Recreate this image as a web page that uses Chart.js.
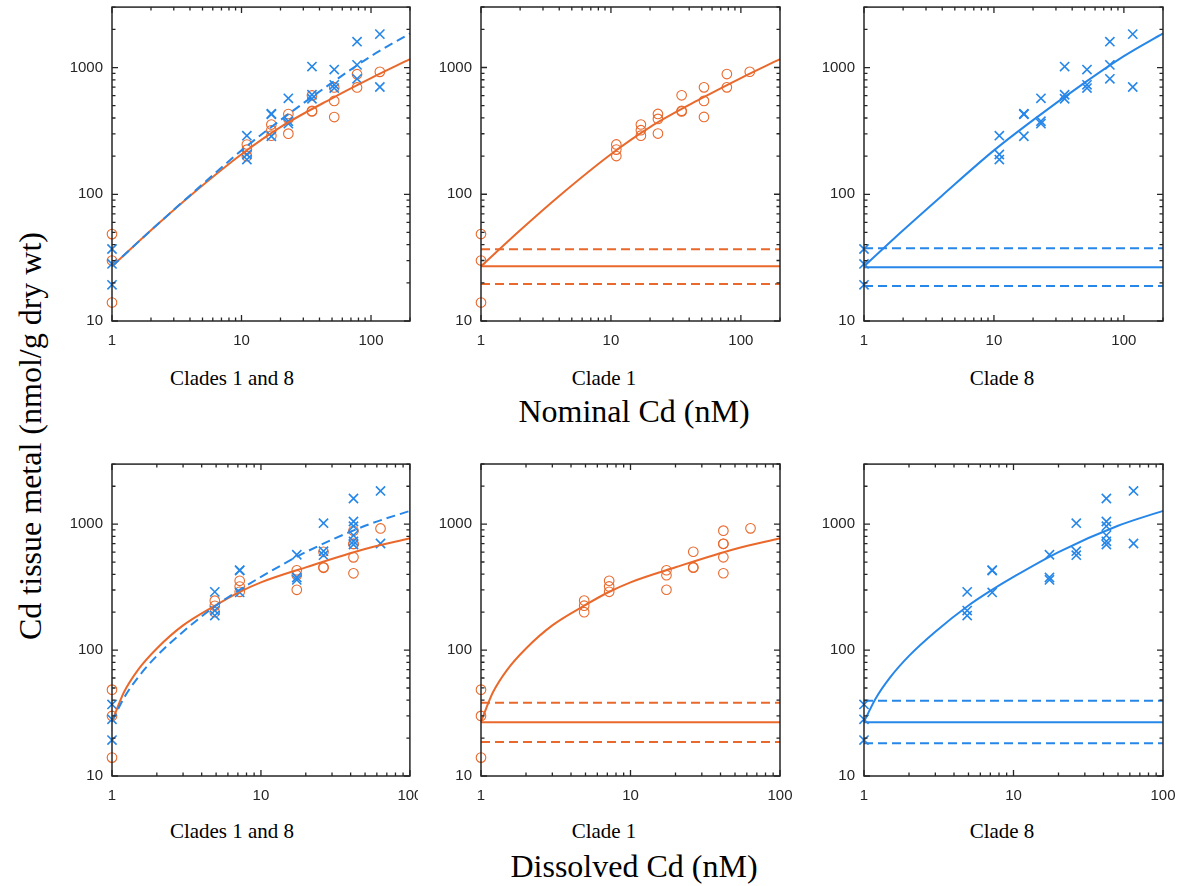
<!DOCTYPE html>
<html>
<head>
<meta charset="utf-8">
<script src="https://cdn.jsdelivr.net/npm/chart.js@4.4.1/dist/chart.umd.min.js"></script>
<style>
    body { margin: 0; background: #fff; width: 1180px; height: 886px; position: relative; overflow: hidden; }
    canvas { position: absolute; }
    .lbl { position: absolute; font-family: "Liberation Serif", "Times New Roman", serif; color: #000;
           white-space: nowrap; transform: translate(-50%, -50%); }
    .small { font-size: 21px; }
    .big { font-size: 32px; }
</style>
</head>
<body>
<canvas id="p1"></canvas>
<canvas id="p2"></canvas>
<canvas id="p3"></canvas>
<canvas id="p4"></canvas>
<canvas id="p5"></canvas>
<canvas id="p6"></canvas>

<div class="lbl small" style="left:232px; top:378px">Clades 1 and 8</div>
<div class="lbl small" style="left:604px; top:378px">Clade 1</div>
<div class="lbl small" style="left:1002px; top:378px">Clade 8</div>
<div class="lbl big" style="left:634px; top:411px">Nominal Cd (nM)</div>
<div class="lbl small" style="left:232px; top:831px">Clades 1 and 8</div>
<div class="lbl small" style="left:604px; top:831px">Clade 1</div>
<div class="lbl small" style="left:1002px; top:831px">Clade 8</div>
<div class="lbl big" style="left:634px; top:866px">Dissolved Cd (nM)</div>
<div class="lbl big" style="left:30px; top:436px; transform: translate(-50%, -50%) rotate(-90deg)">Cd tissue metal (nmol/g dry wt)</div>

<script>
// exposure concentrations (nM)
const nominalConc = [1, 11, 17, 23, 35, 52, 78, 117];
const dissolvedConc = [1, 4.9, 7.2, 17.4, 26.3, 41.8, 41.8, 63.5];

// tissue Cd (nmol/g dry wt), one group per concentration
const clade1Tissue = [[48.5, 30, 14], [247, 225, 200], [355, 320, 290], [430, 393, 301],
                      [603, 455, 450], [697, 545, 407], [887, 697], [925]];
const clade8Tissue = [[37, 28.2, 19.3], [290, 206, 188], [432, 428, 287], [572, 377, 361],
                      [1018, 610, 567], [964, 731, 689], [1600, 1050, 815], [1836, 702]];

// fitted curves
const fitNominalX = [1, 2, 4, 10, 20, 50, 100, 200];
const fitNominalClade1 = [27, 52, 97, 207, 339, 572, 825, 1164];
const fitNominalClade8 = [27, 52, 98, 222, 385, 760, 1230, 1860];
const fitDissolvedX = [1, 1.2, 1.5, 2, 3, 5, 7, 10, 20, 50, 100];
const fitDissolvedClade1 = [27, 46, 70, 103, 157, 228, 285, 345, 454, 635, 772];
const fitDissolvedClade8 = [27, 41.5, 61, 90, 140, 226, 295, 381, 600, 971, 1276];

// control level: mean, upper, lower
const ctrlNominalClade1 = [27, 36.8, 19.6];
const ctrlNominalClade8 = [26.5, 37.5, 18.9];
const ctrlDissolvedClade1 = [26.7, 38.2, 18.6];
const ctrlDissolvedClade8 = [26.7, 39.6, 18.2];

const yTicks = [10, 100, 1000];
const xTicks = [1, 10, 100];

const ORANGE = '#E9692C';
const BLUE = '#2787E8';
const AXIS = '#262626';

function points(conc, groups) {
    var out = [];
    groups.forEach(function(g, i) {
        g.forEach(function(v) { out.push({x: conc[i], y: v}); });
    });
    return out;
}

function curve(xs, ys) {
    return xs.map(function(x, i) { return {x: x, y: ys[i]}; });
}

function circles(conc, groups) {
    return { data: points(conc, groups), pointStyle: 'circle', pointRadius: 4.8, borderWidth: 1.1,
             borderColor: ORANGE, backgroundColor: 'rgba(0,0,0,0)', showLine: false, clip: false };
}

function crosses(conc, groups) {
    return { data: points(conc, groups), pointStyle: 'crossRot', pointRadius: 6.5, borderWidth: 1.6,
             borderColor: BLUE, backgroundColor: BLUE, showLine: false, clip: false };
}

function fitLine(xs, ys, color, dashed) {
    return { data: curve(xs, ys), showLine: true, pointRadius: 0, borderColor: color, borderWidth: 2,
             borderDash: dashed ? [9, 5] : [], cubicInterpolationMode: 'monotone', clip: false };
}

function ctrlLines(ctrl, xMax, color) {
    return [
        { data: [{x: 1, y: ctrl[0]}, {x: xMax, y: ctrl[0]}], showLine: true, pointRadius: 0, borderColor: color, borderWidth: 2, clip: false },
        { data: [{x: 1, y: ctrl[1]}, {x: xMax, y: ctrl[1]}], showLine: true, pointRadius: 0, borderColor: color, borderWidth: 2, borderDash: [9, 5], clip: false },
        { data: [{x: 1, y: ctrl[2]}, {x: xMax, y: ctrl[2]}], showLine: true, pointRadius: 0, borderColor: color, borderWidth: 2, borderDash: [9, 5], clip: false }
    ];
}

// box with inward ticks, drawn from the chart scales
const boxPlugin = {
    id: 'box',
    afterDatasetsDraw: function(chart) {
        var ctx = chart.ctx, a = chart.chartArea;
        var xs = chart.scales.x, ys = chart.scales.y;
        ctx.save();
        ctx.strokeStyle = AXIS;
        ctx.lineWidth = 1.3;
        for (var d = 1; d <= 1000; d *= 10) {
            for (var m = 1; m <= 9; m++) {
                var v = d * m;
                var len = m === 1 ? 6 : 3.5;
                if (v >= xs.min && v <= xs.max) {
                    var px = xs.getPixelForValue(v);
                    ctx.beginPath();
                    ctx.moveTo(px, a.bottom); ctx.lineTo(px, a.bottom - len);
                    ctx.moveTo(px, a.top); ctx.lineTo(px, a.top + len);
                    ctx.stroke();
                }
                if (v >= ys.min && v <= ys.max) {
                    var py = ys.getPixelForValue(v);
                    ctx.beginPath();
                    ctx.moveTo(a.left, py); ctx.lineTo(a.left + len, py);
                    ctx.moveTo(a.right, py); ctx.lineTo(a.right - len, py);
                    ctx.stroke();
                }
            }
        }
        ctx.lineWidth = 1.5;
        ctx.strokeRect(a.left, a.top, a.right - a.left, a.bottom - a.top);
        ctx.restore();
    }
};

function makePanel(id, box, xMax, rightPad, datasets) {
    var canvas = document.getElementById(id);
    var w = box.right - box.left, h = box.bottom - box.top;
    canvas.width = w + 62 + rightPad;
    canvas.height = h + 8 + 34;
    canvas.style.left = (box.left - 62) + 'px';
    canvas.style.top = (box.top - 8) + 'px';
    var tickFont = { family: '"Liberation Sans", Arial, sans-serif', size: 15 };
    new Chart(canvas.getContext('2d'), {
        type: 'scatter',
        data: { datasets: datasets },
        options: {
            responsive: false,
            animation: false,
            events: [],
            layout: { padding: { left: 0, top: 8, right: rightPad, bottom: 0 } },
            plugins: { legend: { display: false }, tooltip: { enabled: false } },
            scales: {
                x: {
                    type: 'logarithmic', min: 1, max: xMax,
                    afterBuildTicks: function(s) { s.ticks = xTicks.map(function(v) { return {value: v}; }); },
                    afterFit: function(s) { s.height = 34; s.paddingLeft = 0; s.paddingRight = 0; },
                    ticks: { callback: function(v) { return String(v); }, font: tickFont, color: AXIS,
                             padding: 11, maxRotation: 0, autoSkip: false },
                    grid: { display: false, drawTicks: false },
                    border: { display: false }
                },
                y: {
                    type: 'logarithmic', min: 10, max: 3000,
                    afterBuildTicks: function(s) { s.ticks = yTicks.map(function(v) { return {value: v}; }); },
                    afterFit: function(s) { s.width = 62; s.paddingTop = 0; s.paddingBottom = 0; },
                    ticks: { callback: function(v) { return String(v); }, font: tickFont, color: AXIS,
                             padding: 9, autoSkip: false },
                    grid: { display: false, drawTicks: false },
                    border: { display: false }
                }
            }
        },
        plugins: [boxPlugin]
    });
}

// Nominal Cd
makePanel('p1', {left: 112, top: 7, right: 410, bottom: 321}, 200, 22, [
    fitLine(fitNominalX, fitNominalClade8, BLUE, true),
    fitLine(fitNominalX, fitNominalClade1, ORANGE, false),
    crosses(nominalConc, clade8Tissue),
    circles(nominalConc, clade1Tissue)
]);
makePanel('p2', {left: 481, top: 7, right: 780, bottom: 321}, 200, 22,
    ctrlLines(ctrlNominalClade1, 200, ORANGE).concat([
        fitLine(fitNominalX, fitNominalClade1, ORANGE, false),
        circles(nominalConc, clade1Tissue)
    ]));
makePanel('p3', {left: 864, top: 7, right: 1163, bottom: 321}, 200, 17,
    ctrlLines(ctrlNominalClade8, 200, BLUE).concat([
        fitLine(fitNominalX, fitNominalClade8, BLUE, false),
        crosses(nominalConc, clade8Tissue)
    ]));

// Dissolved Cd
makePanel('p4', {left: 112, top: 464, right: 410, bottom: 776}, 100, 8, [
    fitLine(fitDissolvedX, fitDissolvedClade8, BLUE, true),
    fitLine(fitDissolvedX, fitDissolvedClade1, ORANGE, false),
    crosses(dissolvedConc, clade8Tissue),
    circles(dissolvedConc, clade1Tissue)
]);
makePanel('p5', {left: 481, top: 464, right: 780, bottom: 776}, 100, 22,
    ctrlLines(ctrlDissolvedClade1, 100, ORANGE).concat([
        fitLine(fitDissolvedX, fitDissolvedClade1, ORANGE, false),
        circles(dissolvedConc, clade1Tissue)
    ]));
makePanel('p6', {left: 864, top: 464, right: 1163, bottom: 776}, 100, 17,
    ctrlLines(ctrlDissolvedClade8, 100, BLUE).concat([
        fitLine(fitDissolvedX, fitDissolvedClade8, BLUE, false),
        crosses(dissolvedConc, clade8Tissue)
    ]));
</script>
</body>
</html>
